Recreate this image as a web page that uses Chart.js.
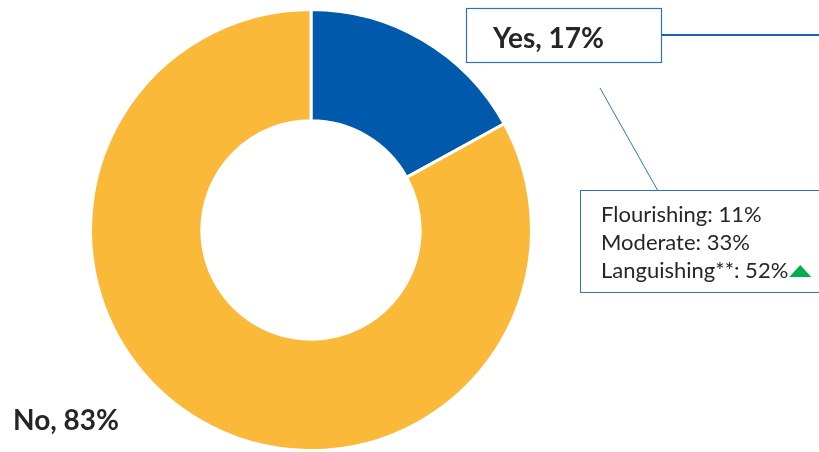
<!DOCTYPE html>
<html>
<head>
<meta charset="utf-8">
<script src="https://cdn.jsdelivr.net/npm/chart.js@4"></script>
<style>
html, body { margin: 0; padding: 0; background: #fff; }
#wrap { position: relative; width: 819px; height: 452px; }
</style>
</head>
<body>
<div id="wrap"><canvas id="graficoBienestar"></canvas></div>
<script>
// answer shares
const categorias = ["Yes", "No"];
const valores = [17, 83];
const colores = ["#0059AB", "#FAB939"];

// breakdown shown in the callout for "Yes"
const detalle = ["Flourishing", "Moderate", "Languishing**"];
const detalleValores = [11, 33, 52];

const FUENTE = "Lato, 'Liberation Sans', sans-serif";

// callouts, leader lines and labels drawn on top of the doughnut
const etiquetas = {
  id: "etiquetas",
  afterDraw(chart) {
    const ctx = chart.ctx;
    ctx.save();

    // "Yes" box and its line running to the right edge
    ctx.strokeStyle = "#2E75B6";
    ctx.lineWidth = 1.2;
    ctx.strokeRect(466.5, 8.5, 195, 54);
    ctx.strokeStyle = "#1F5FAE";
    ctx.lineWidth = 2;
    ctx.beginPath();
    ctx.moveTo(662, 35);
    ctx.lineTo(819, 35);
    ctx.stroke();

    ctx.fillStyle = "#262626";
    ctx.font = "bold 28px " + FUENTE;
    ctx.textBaseline = "alphabetic";
    ctx.fillText(categorias[0] + ", " + valores[0] + "%", 493, 48);

    // leader to the breakdown box
    ctx.strokeStyle = "#2E75B6";
    ctx.lineWidth = 1;
    ctx.beginPath();
    ctx.moveTo(600, 88);
    ctx.lineTo(658, 191);
    ctx.stroke();

    ctx.strokeRect(580.5, 190.5, 250, 102);

    ctx.font = "22px " + FUENTE;
    let ultimo = 0;
    detalle.forEach((nombre, i) => {
      const txt = nombre + ": " + detalleValores[i] + "%";
      ctx.fillText(txt, 601, 222 + i * 28);
      ultimo = 601 + ctx.measureText(txt).width;
    });

    // green up-arrow after the last line
    ctx.fillStyle = "#00B050";
    ctx.beginPath();
    ctx.moveTo(ultimo + 1, 277);
    ctx.lineTo(ultimo + 23, 277);
    ctx.lineTo(ultimo + 12, 265);
    ctx.closePath();
    ctx.fill();

    // "No" label
    ctx.fillStyle = "#262626";
    ctx.font = "bold 28px " + FUENTE;
    ctx.fillText(categorias[1] + ", " + valores[1] + "%", 13, 430);

    ctx.restore();
  }
};

new Chart(document.getElementById("graficoBienestar"), {
  type: "doughnut",
  data: {
    labels: categorias,
    datasets: [{
      data: valores,
      backgroundColor: colores,
      borderColor: "#ffffff",
      borderWidth: 3
    }]
  },
  options: {
    responsive: true,
    maintainAspectRatio: false,
    animation: false,
    cutout: "49.5%",
    layout: { padding: { top: 8, bottom: 0, left: 0, right: 197 } },
    plugins: {
      legend: { display: false },
      tooltip: { enabled: false }
    }
  },
  plugins: [etiquetas]
});
</script>
</body>
</html>
